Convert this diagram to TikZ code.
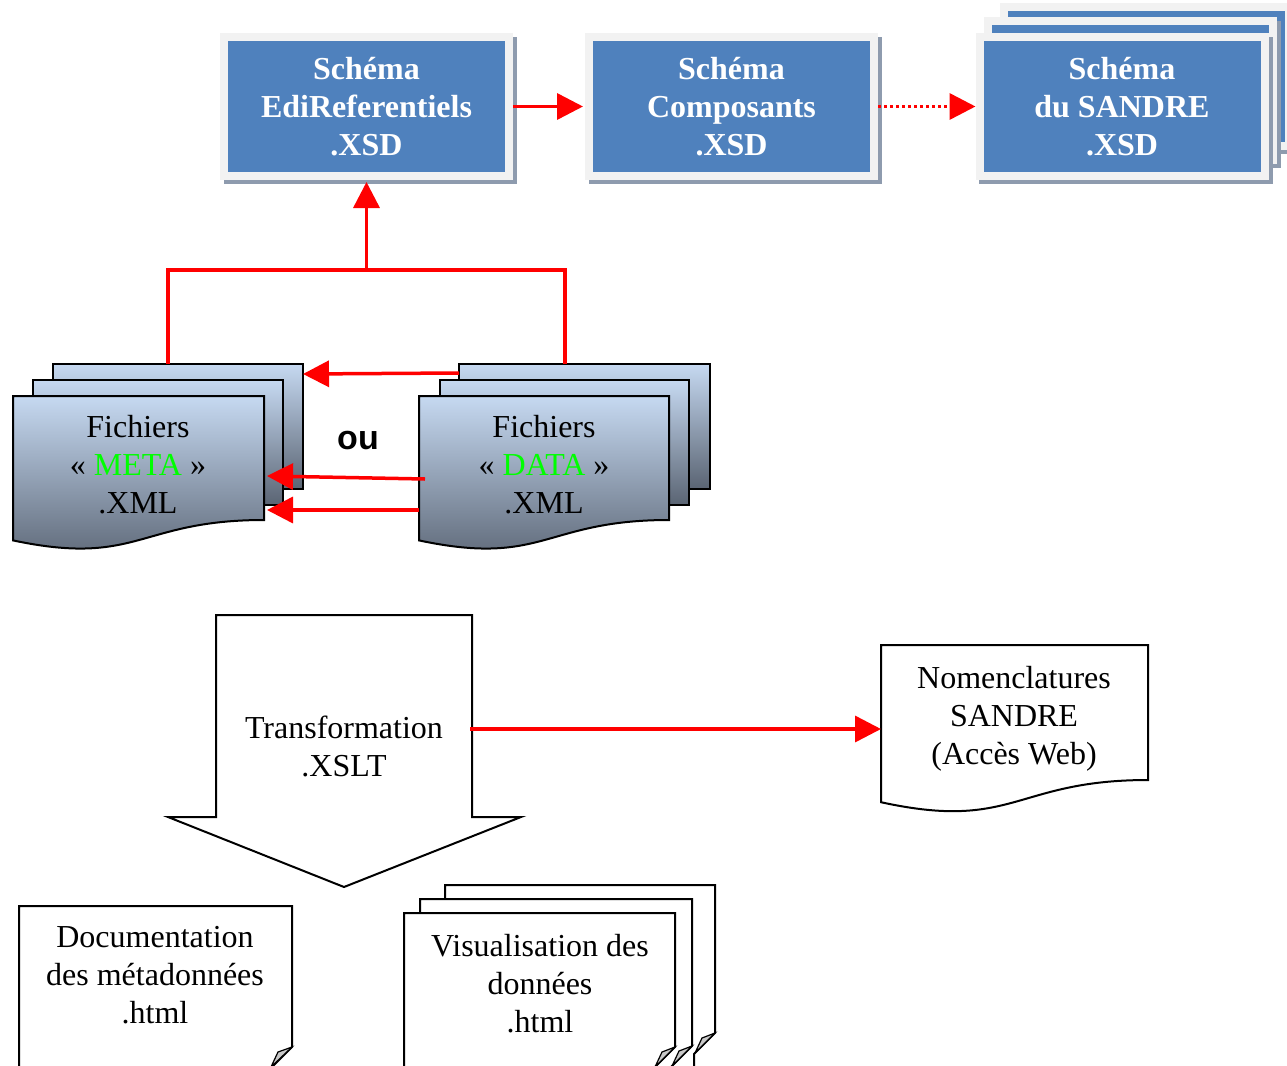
\documentclass[tikz,border=0pt]{standalone}
\usepackage{fontspec}
\setmainfont{Liberation Serif}
\newfontfamily\arialfont{Liberation Sans}
\usetikzlibrary{arrows.meta}
\definecolor{xblue}{HTML}{4F81BD}
\definecolor{xframe}{HTML}{F2F2F2}
\definecolor{xshadow}{HTML}{8E9BAE}
\definecolor{mtop}{HTML}{C6D9F1}
\definecolor{mbot}{HTML}{5A6473}
\definecolor{foldgray}{HTML}{C8C8C8}
\definecolor{xgreen}{HTML}{00FF00}
\begin{document}
\begin{tikzpicture}[x=1pt,y=-1pt,
 topbox/.style={fill=xblue, draw=xframe, line width=8pt, minimum width=285pt, minimum height=139pt, inner sep=0pt, text=white, font=\bfseries\fontsize{32}{38}\selectfont, align=center},
 shadowbox/.style={fill=xshadow},
 redarrow/.style={draw=red, line width=3.5pt, -{Triangle[length=26pt,width=26pt]}},
 redline/.style={draw=red, line width=3.5pt},
 sheet/.style={draw=black, line width=2pt, top color=mtop, bottom color=mbot},
 paper/.style={draw=black, line width=2pt, fill=white},
 foldc/.style={draw=black, line width=1.2pt, fill=foldgray},
 txt/.style={font=\fontsize{32}{38}\selectfont, align=center, inner sep=0pt},
]
\useasboundingbox (0,0) rectangle (1287,1065);
\clip (0,0) rectangle (1287,1065);

% ---- top boxes ----
\fill[shadowbox] (224,37) rectangle (517,184);
\node[topbox] (edi) at (366.5,106.5) {Schéma\\EdiReferentiels\\.XSD};
\fill[shadowbox] (589,37) rectangle (882,184);
\node[topbox] (comp) at (731.5,106.5) {Schéma\\Composants\\.XSD};
\fill[shadowbox] (1003,7) rectangle (1297,154);
\node[topbox] (sandre3) at (1146,76.5) {};
\fill[shadowbox] (987,21) rectangle (1281,168);
\node[topbox] (sandre2) at (1130,90.5) {};
\fill[shadowbox] (979,37) rectangle (1273,184);
\node[topbox] (sandre) at (1122,106.5) {Schéma\\du SANDRE\\.XSD};

\draw[redarrow] (edi.east) -- ([xshift=-2pt]comp.west);
\draw[redarrow, dash pattern=on 3pt off 3pt] (comp.east) -- (sandre.west);

% ---- META files ----
\path[sheet] (53,364) rectangle (303,489);
\path[sheet] (33,380) rectangle (283,505);
\path[sheet] (13,396) -- (264,396) -- (264,520) .. controls (138.5,520) and (138.5,567) .. (13,540.4) -- cycle;
\node[txt] (meta) at (138,465) {Fichiers\\« \textcolor{xgreen}{META} »\\.XML};

% ---- DATA files ----
\path[sheet] (459,364) rectangle (710,489);
\path[sheet] (440,380) rectangle (689,505);
\path[sheet] (419,396) -- (669,396) -- (669,520) .. controls (544,520) and (544,567) .. (419,540.4) -- cycle;
\node[txt] (data) at (544,465) {Fichiers\\« \textcolor{xgreen}{DATA} »\\.XML};

\node[font=\arialfont\bfseries\fontsize{34}{40}\selectfont, inner sep=0pt] (ou) at (358,441) {ou};

\coordinate (mTop) at (168,364);
\coordinate (dTop) at (565,364);
\coordinate (junc) at (366.5,270);
\draw[redline] (mTop) |- (junc) -| (dTop);
\draw[redarrow] (junc) -- ([yshift=-2pt]edi.south);

\coordinate (mB) at (303,374);
\coordinate (dB) at (459,373);
\coordinate (mM) at (267,476);
\coordinate (dM) at (425,479);
\coordinate (mF) at (267,510);
\coordinate (dF) at (419,510);
\draw[redarrow] (dB) -- (mB);
\draw[redarrow] (dM) -- (mM);
\draw[redarrow] (dF) -- (mF);

% ---- Transformation ----
\draw[paper] (216,615) -- (472,615) -- (472,817) -- (521,817) -- (344,887) -- (168,817) -- (216,817) -- cycle;
\node[txt] (trans) at (344,746) {Transformation\\.XSLT};

% ---- Nomenclatures ----
\draw[paper] (881,645) -- (1148,645) -- (1148,780) .. controls (1014.5,780) and (1014.5,831.4) .. (881,802.2) -- cycle;
\node[txt] (nomen) at (1014,719) {Nomenclatures\\SANDRE\\(Accès Web)};
\coordinate (tR) at (470,729);
\coordinate (nL) at (881,729);
\draw[redarrow] (tR) -- (nL);

% ---- Documentation ----
\draw[paper] (19,1090) -- (19,906) -- (292,906) -- (292,1047) -- (270,1069) -- (270,1090);
\draw[foldc] (292,1047) -- (278,1052) -- (271,1067) -- cycle;
\node[txt] (doc) at (155,975) {Documentation\\des métadonnées\\.html};

% ---- Visualisation ----
\draw[paper] (445,1090) -- (445,885) -- (715,885) -- (715,1033) -- (694,1054) -- (694,1090);
\draw[foldc] (715,1033) -- (702,1038) -- (695,1053) -- cycle;
\draw[paper] (420,1090) -- (420,899) -- (692,899) -- (692,1046) -- (671,1067) -- (671,1090);
\draw[foldc] (692,1046) -- (679,1051) -- (672,1066) -- cycle;
\draw[paper] (404,1090) -- (404,913) -- (675,913) -- (675,1047) -- (654,1068) -- (654,1090);
\draw[foldc] (675,1047) -- (662,1052) -- (655,1067) -- cycle;
\node[txt] (visu) at (540,984) {Visualisation des\\données\\.html};
\end{tikzpicture}
\end{document}
